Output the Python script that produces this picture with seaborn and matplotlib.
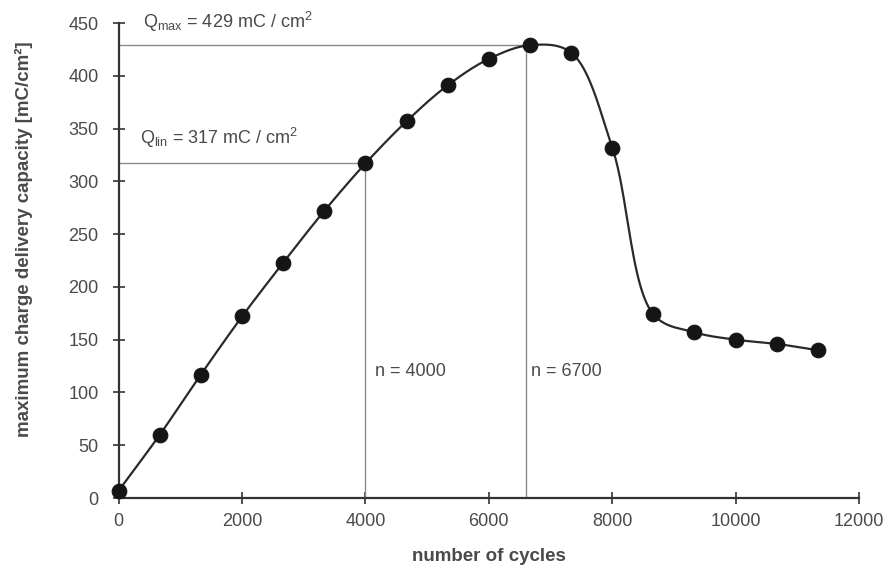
import numpy as np
import pandas as pd
import seaborn as sns
import matplotlib.pyplot as plt

# values
cycles = [0, 667, 1333, 2000, 2667, 3333, 4000, 4667, 5333, 6000,
          6667, 7333, 8000, 8667, 9333, 10000, 10667, 11333]
capacity = [7, 60, 117, 172, 223, 272, 317, 357, 391, 416,
            429, 422, 332, 174, 157, 150, 146, 140]

q_max, n_max = 429, 6600
q_lin, n_lin = 317, 4000
x_ticks = [0, 2000, 4000, 6000, 8000, 10000, 12000]
y_ticks = [0, 50, 100, 150, 200, 250, 300, 350, 400, 450]


def smooth_curve(x, y, steps=40, alpha=0.5):
    # centripetal Catmull-Rom through the measured points (drawing only),
    # computed in roughly screen-proportional units
    sx, sy = 0.0617, 1.055
    pts = np.column_stack([np.asarray(x, float) * sx, np.asarray(y, float) * sy])
    pts = np.vstack([2 * pts[0] - pts[1], pts, 2 * pts[-1] - pts[-2]])
    out = []
    for i in range(1, len(pts) - 2):
        p0, p1, p2, p3 = pts[i - 1], pts[i], pts[i + 1], pts[i + 2]
        t0 = 0.0
        t1 = t0 + np.linalg.norm(p1 - p0) ** alpha
        t2 = t1 + np.linalg.norm(p2 - p1) ** alpha
        t3 = t2 + np.linalg.norm(p3 - p2) ** alpha
        t = np.linspace(t1, t2, steps, endpoint=False)[:, None]
        a1 = (t1 - t) / (t1 - t0) * p0 + (t - t0) / (t1 - t0) * p1
        a2 = (t2 - t) / (t2 - t1) * p1 + (t - t1) / (t2 - t1) * p2
        a3 = (t3 - t) / (t3 - t2) * p2 + (t - t2) / (t3 - t2) * p3
        b1 = (t2 - t) / (t2 - t0) * a1 + (t - t0) / (t2 - t0) * a2
        b2 = (t3 - t) / (t3 - t1) * a2 + (t - t1) / (t3 - t1) * a3
        c = (t2 - t) / (t2 - t1) * b1 + (t - t1) / (t2 - t1) * b2
        out.append(c)
    out.append(pts[-2][None, :])
    out = np.vstack(out)
    return pd.DataFrame({"cycles": out[:, 0] / sx, "capacity": out[:, 1] / sy})


df = pd.DataFrame({"cycles": cycles, "capacity": capacity})
curve = smooth_curve(cycles, capacity)

sns.set_style("ticks")
plt.rcParams["font.family"] = ["Liberation Sans", "DejaVu Sans"]
plt.rcParams["mathtext.default"] = "regular"

text_color = "#4a4a4a"
guide_color = "#8a8a8a"

fig = plt.figure(figsize=(8.89, 5.70), dpi=100)
ax = fig.add_axes([0.1335, 0.1263, 0.8328, 0.8333])

# guide lines for Q_max and Q_lin
ax.plot([0, n_max], [q_max, q_max], color=guide_color, lw=1)
ax.plot([n_max, n_max], [0, q_max], color=guide_color, lw=1)
ax.plot([0, n_lin], [q_lin, q_lin], color=guide_color, lw=1)
ax.plot([n_lin, n_lin], [0, q_lin], color=guide_color, lw=1)

sns.lineplot(data=curve, x="cycles", y="capacity", ax=ax,
             color="#2a2a2a", lw=1.6, sort=False, estimator=None)
sns.scatterplot(data=df, x="cycles", y="capacity", ax=ax, s=110,
                color="#151515", edgecolor="#151515", zorder=5, clip_on=False)

ax.set_xlim(0, 12000)
ax.set_ylim(0, 450)
ax.set_xticks(x_ticks)
ax.set_yticks(y_ticks)
ax.tick_params(direction="inout", length=9, width=1.2, colors="#333333",
               labelcolor=text_color, labelsize=13)
ax.tick_params(axis="y", pad=10)
ax.tick_params(axis="x", pad=6)
for side in ("left", "bottom"):
    ax.spines[side].set_color("#333333")
    ax.spines[side].set_linewidth(1.6)
sns.despine(ax=ax)

ax.set_xlabel("number of cycles", fontsize=13.5, fontweight="bold",
              color=text_color)
ax.set_ylabel("maximum charge delivery capacity [mC/cm²]", fontsize=13.5,
              fontweight="bold", color=text_color)
ax.xaxis.set_label_coords(0.5, -0.105)
ax.yaxis.set_label_coords(-0.116, 0.545)

ax.text(400, 451, r"Q$_{max}$ = 429 mC / cm$^{2}$", fontsize=13,
        color=text_color, va="center", clip_on=False)
ax.text(350, 341, r"Q$_{lin}$ = 317 mC / cm$^{2}$", fontsize=13,
        color=text_color, va="center")
ax.text(4150, 120, "n = 4000", fontsize=13, color=text_color, va="center")
ax.text(6680, 120, "n = 6700", fontsize=13, color=text_color, va="center")

fig.savefig("out.png", dpi=100)
